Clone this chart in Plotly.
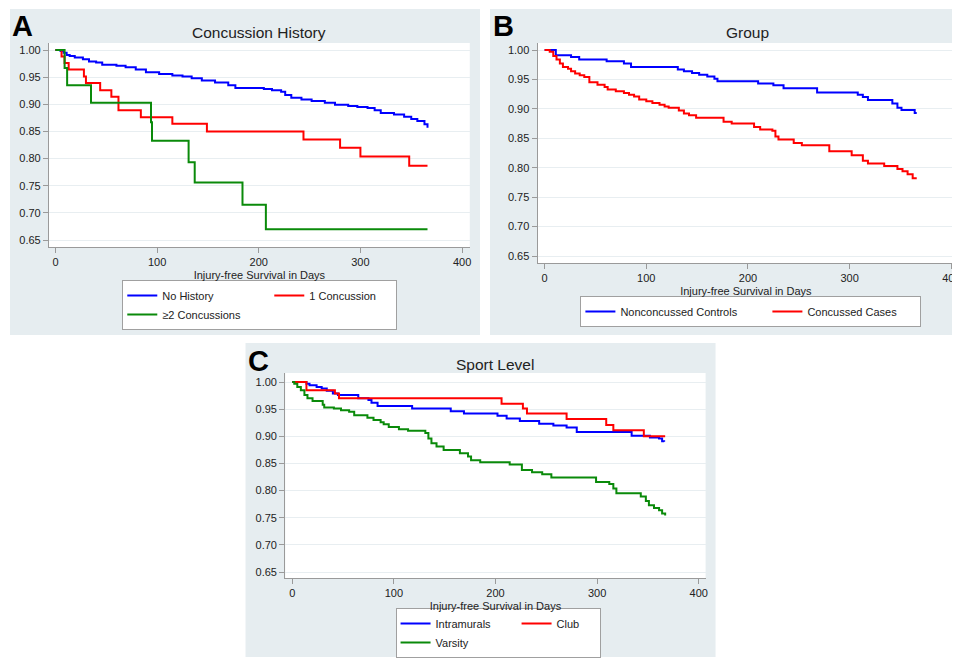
import plotly.graph_objects as go

# ---------------- Data ----------------
x_ticks = [0, 100, 200, 300, 400]
y_ticks = [0.65, 0.70, 0.75, 0.80, 0.85, 0.90, 0.95, 1.00]

# Panel A: Concussion History
a_nohist_days = [0, 5, 8, 11, 14, 19, 27, 33, 40, 46, 60, 69, 79, 89, 102, 115, 125, 134, 144, 157,
                 170, 177, 205, 213, 222, 226, 232, 242, 252, 265, 275, 288, 297, 307, 314, 320,
                 333, 343, 350, 356, 363, 366]
a_nohist_surv = [1.0, 0.998, 0.995, 0.991, 0.989, 0.986, 0.983, 0.979, 0.977, 0.973, 0.971, 0.968,
                 0.964, 0.959, 0.956, 0.953, 0.951, 0.948, 0.944, 0.940, 0.935, 0.930, 0.928, 0.926,
                 0.923, 0.917, 0.912, 0.909, 0.906, 0.903, 0.899, 0.897, 0.895, 0.893, 0.889, 0.884,
                 0.881, 0.877, 0.873, 0.869, 0.863, 0.857]
a_one_days = [0, 6, 9, 13, 28, 30, 44, 55, 62, 84, 115, 149, 244, 280, 300, 348, 366]
a_one_surv = [1.0, 0.988, 0.976, 0.964, 0.951, 0.939, 0.926, 0.914, 0.889, 0.876, 0.864, 0.850,
              0.835, 0.820, 0.804, 0.787, 0.787]
a_two_days = [0, 9, 11.5, 35, 94, 95, 131, 137, 184, 207, 366]
a_two_surv = [1.0, 0.967, 0.935, 0.903, 0.867, 0.833, 0.793, 0.756, 0.715, 0.670, 0.670]

# Panel B: Group
b_ctrl_days = [0, 11, 26, 34, 61, 78, 85, 131, 137, 145, 152, 160, 167, 170, 210, 225, 235, 268,
               308, 313, 318, 342, 347, 351, 364, 366]
b_ctrl_surv = [1.0, 0.991, 0.988, 0.984, 0.981, 0.977, 0.971, 0.967, 0.964, 0.961, 0.958, 0.955,
               0.951, 0.947, 0.943, 0.940, 0.935, 0.928, 0.924, 0.920, 0.915, 0.909, 0.902, 0.898,
               0.893, 0.893]
b_case_days = [0, 5, 8.5, 11.7, 15, 18, 23, 26, 30, 34.5, 39, 44, 52, 59, 62, 70, 78, 83, 88, 93,
               100, 106, 113, 118, 122, 132, 137, 142, 149, 176, 184, 206, 212, 224, 227, 230, 245,
               253, 280, 302, 313, 318, 334, 347, 352, 357, 362, 366]
b_case_surv = [1.0, 0.997, 0.990, 0.984, 0.977, 0.971, 0.968, 0.964, 0.960, 0.957, 0.954, 0.945,
               0.941, 0.937, 0.933, 0.930, 0.927, 0.924, 0.921, 0.916, 0.913, 0.910, 0.907, 0.904,
               0.902, 0.897, 0.892, 0.889, 0.885, 0.878, 0.875, 0.869, 0.865, 0.863, 0.853, 0.848,
               0.842, 0.838, 0.828, 0.821, 0.812, 0.807, 0.803, 0.798, 0.794, 0.789, 0.782, 0.782]

# Panel C: Sport Level
c_intra_days = [0, 14, 17, 24, 29, 34, 40, 45, 65, 75, 78, 84, 118, 156, 169, 202, 211, 224, 243,
                257, 270, 280, 334, 352, 361, 364, 366]
c_intra_surv = [1.0, 0.997, 0.994, 0.991, 0.988, 0.984, 0.979, 0.976, 0.970, 0.967, 0.962, 0.956,
                0.951, 0.946, 0.942, 0.938, 0.933, 0.928, 0.923, 0.920, 0.916, 0.908, 0.901, 0.898,
                0.896, 0.891, 0.890]
c_club_days = [0, 14, 42, 46, 206, 227, 231, 270, 309, 316, 346, 367]
c_club_surv = [1.0, 0.985, 0.979, 0.970, 0.960, 0.951, 0.942, 0.932, 0.921, 0.911, 0.900, 0.900]
c_vars_days = [0, 2, 5, 8.5, 12, 15, 20, 30, 31.5, 41, 48, 56, 61, 74, 80, 87, 90, 95, 105, 114,
               131, 134, 137, 142, 149, 165, 173, 176, 185, 214, 226, 236, 246, 255, 299, 312,
               316, 319, 343, 348, 351, 356, 361, 364, 367]
c_vars_surv = [1.0, 0.997, 0.991, 0.985, 0.976, 0.970, 0.965, 0.958, 0.953, 0.951, 0.948, 0.945,
               0.939, 0.934, 0.930, 0.926, 0.922, 0.917, 0.913, 0.910, 0.906, 0.896, 0.887, 0.881,
               0.875, 0.869, 0.863, 0.856, 0.852, 0.848, 0.838, 0.834, 0.830, 0.824, 0.816, 0.812,
               0.804, 0.795, 0.789, 0.781, 0.773, 0.768, 0.764, 0.758, 0.754]

panel_titles = ["Concussion History", "Group", "Sport Level"]
panel_letters = ["A", "B", "C"]
x_title = "Injury-free Survival in Days"

# ---------------- Styling / layout ----------------
W, H = 960, 658
OFF = 8  # page body margin: screen px = figure px + OFF
FONT = "Liberation Sans, Arial, Helvetica, sans-serif"
TXT = "#222222"
PANEL_BG = "#e6edf0"
GRID = "#e8eef1"
AXCOL = "#9a9a9a"
BLUE, RED, GREEN = "#0000ff", "#ff0000", "#0a8a0a"


def fx(px):
    """screen x pixel -> paper fraction"""
    return (px - OFF) / W


def fy(py):
    """screen y pixel -> paper fraction"""
    return 1 - (py - OFF) / H


fig = go.Figure()

series = [
    # (days, surv, name, color, axis suffix, legend, group, legend entry width)
    (a_nohist_days, a_nohist_surv, "No History", BLUE, "", "legend", "a1", 102),
    (a_one_days, a_one_surv, "1 Concussion", RED, "", "legend", "a2", 82),
    (a_two_days, a_two_surv, "≥2 Concussions", GREEN, "", "legend", "a1", 102),
    (b_ctrl_days, b_ctrl_surv, "Nonconcussed Controls", BLUE, "2", "legend2", "b1", 142),
    (b_case_days, b_case_surv, "Concussed Cases", RED, "2", "legend2", "b2", 108),
    (c_intra_days, c_intra_surv, "Intramurals", BLUE, "3", "legend3", "c1", 76),
    (c_club_days, c_club_surv, "Club", RED, "3", "legend3", "c2", 38),
    (c_vars_days, c_vars_surv, "Varsity", GREEN, "3", "legend3", "c1", 76),
]
for d, s, name, col, ax, leg, grp, lw in series:
    fig.add_trace(go.Scatter(
        x=d, y=s, mode="lines", name=name,
        line=dict(color=col, width=2, shape="hv"),
        xaxis="x" + ax, yaxis="y" + ax, legend=leg, legendgroup=grp,
        legendwidth=lw, hoverinfo="skip",
    ))

# Plot-area geometry in screen pixels: (left, right, top, bottom, xrange, yrange)
geo = {
    "": (49.3, 472.7, 43, 247, [-6.3, 407.6], [0.6371, 1.0129]),
    "2": (541, 960, 43, 263, [-6.84, 402.7], [0.6381, 1.0119]),
    "3": (287, 710, 373, 578, [-6.85, 406.8], [0.639, 1.0166]),
}

axis_common = dict(
    ticks="outside", ticklen=5, tickwidth=1, tickcolor=AXCOL,
    showline=True, linecolor=AXCOL, linewidth=1.2, zeroline=False,
    tickfont=dict(family=FONT, size=11, color=TXT),
)
for ax, (l, r, t, b, xr, yr) in geo.items():
    fig.layout["xaxis" + ax] = dict(
        domain=[fx(l), fx(r)], range=xr, anchor="y" + ax, tickvals=x_ticks,
        showgrid=False, ticklabeloverflow="allow",
        title=dict(text=x_title, font=dict(family=FONT, size=11, color=TXT), standoff=4),
        **axis_common,
    )
    fig.layout["yaxis" + ax] = dict(
        domain=[fy(b), fy(t)], range=yr, anchor="x" + ax, tickvals=y_ticks,
        tickformat=".2f", showgrid=True, gridcolor=GRID, gridwidth=1,
        **axis_common,
    )

shapes = []
# panel backgrounds (screen px)
for (x0, y0, x1, y1) in [(10, 9, 483, 335), (493, 9, 970, 335), (247, 343, 720, 657)]:
    shapes.append(dict(type="rect", xref="paper", yref="paper", layer="below",
                       x0=fx(x0), x1=fx(x1), y0=fy(y1), y1=fy(y0),
                       fillcolor=PANEL_BG, line=dict(width=0)))
# white plot regions
for ax in ["", "2", "3"]:
    shapes.append(dict(type="rect", xref=f"x{ax} domain", yref=f"y{ax} domain", layer="below",
                       x0=0, x1=1, y0=0, y1=1, fillcolor="white", line=dict(width=0)))

annotations = []
for letter, (x, y) in zip(panel_letters, [(11, 26.5), (495, 26.5), (248, 360.5)]):
    annotations.append(dict(text=f"<b>{letter}</b>", xref="paper", yref="paper",
                            x=fx(x), y=fy(y), xanchor="left", yanchor="middle", showarrow=False,
                            height=28, valign="middle", borderpad=0,
                            font=dict(family=FONT, size=29, color="black")))
for title, (x, y) in zip(panel_titles, [(261, 32), (752, 32), (498.5, 364)]):
    annotations.append(dict(text=title, xref="paper", yref="paper",
                            x=fx(x), y=fy(y), xanchor="center", yanchor="middle", showarrow=False,
                            font=dict(family=FONT, size=15.5, color=TXT)))

legend_common = dict(
    orientation="h", traceorder="grouped", bgcolor="white",
    bordercolor="#a0a0a0", borderwidth=1,
    font=dict(family=FONT, size=11, color=TXT),
    xanchor="left", yanchor="top", xref="paper", yref="paper",
    tracegroupgap=0,
)

fig.update_layout(
    width=W, height=H,
    margin=dict(l=0, r=0, t=0, b=0),
    paper_bgcolor="white", plot_bgcolor="white",
    showlegend=True,
    shapes=shapes, annotations=annotations,
    legend=dict(x=fx(123), y=fy(280), **legend_common),
    legend2=dict(x=fx(584), y=fy(296), **legend_common),
    legend3=dict(x=fx(398), y=fy(608), **legend_common),
)

fig.write_html("out.html")
